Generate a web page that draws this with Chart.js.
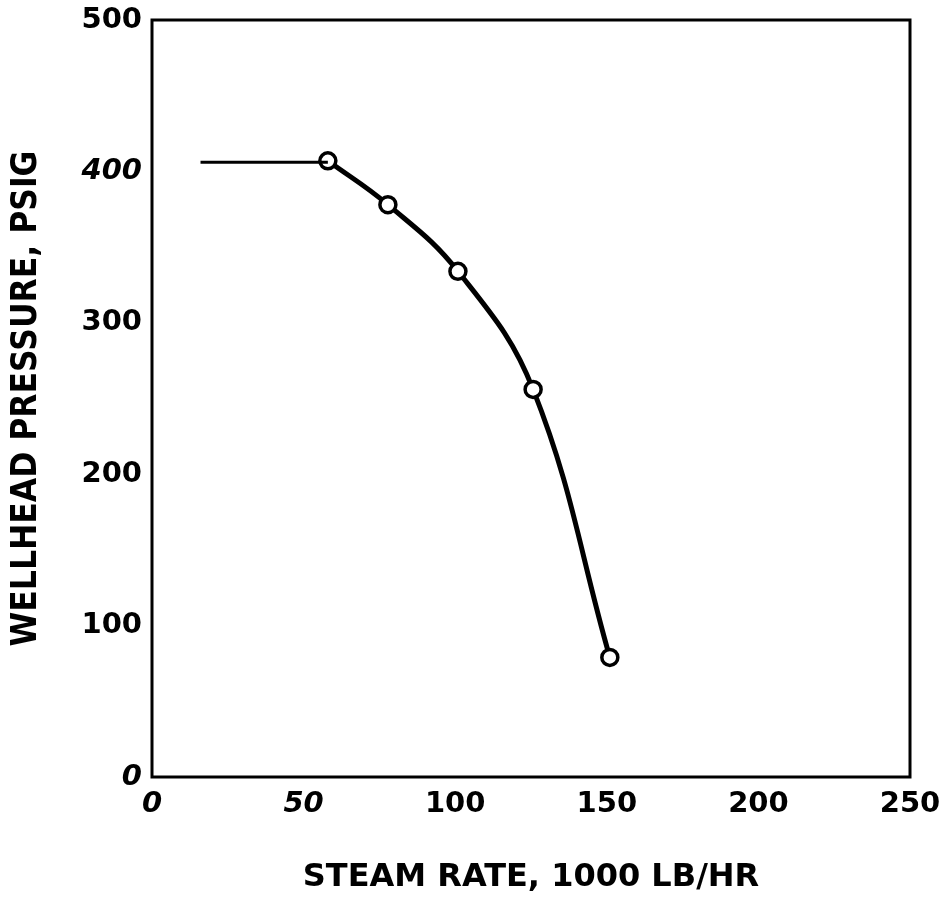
<!DOCTYPE html>
<html><head><meta charset="utf-8">
<script src="https://cdn.jsdelivr.net/npm/chart.js@4"></script>
<style>html,body{margin:0;padding:0;background:#fff}#wrap{width:948px;height:901px}</style>
</head><body><div id="wrap"><canvas id="c" width="948" height="901"></canvas></div>
<script>
const steamRate = [58, 77.8, 100.9, 125.7, 151];
const pressure = [407, 378, 334, 256, 79];
const flatX = [16, 58];
const flatY = [406, 406];
const xTicks = [0, 50, 100, 150, 200, 250];
const yTicks = [0, 100, 200, 300, 400, 500];
const italicTicks = {x: [0, 50], y: [0, 400]};

const boxPlugin = {
  id: 'box',
  afterDatasetsDraw(chart) {
    const a = chart.chartArea, ctx = chart.ctx;
    ctx.save(); ctx.strokeStyle = '#000'; ctx.lineWidth = 3;
    ctx.strokeRect(a.left, a.top, a.right - a.left, a.bottom - a.top);
    ctx.restore();
  }
};

new Chart(document.getElementById('c'), {
  type: 'scatter',
  data: {
    datasets: [
      {
        data: flatX.map((x, i) => ({x, y: flatY[i]})),
        showLine: true, borderColor: '#000', borderWidth: 3, pointRadius: 0
      },
      {
        data: steamRate.map((x, i) => ({x, y: pressure[i]})),
        showLine: true, borderColor: '#000', borderWidth: 5,
        tension: 0.4,
        pointRadius: 8, pointBorderWidth: 3.5,
        pointBackgroundColor: '#fff', pointBorderColor: '#000'
      }
    ]
  },
  options: {
    responsive: false, animation: false,
    layout: {padding: {top: 20, right: 38, left: 0, bottom: 0}},
    plugins: {legend: {display: false}, tooltip: {enabled: false}},
    scales: {
      x: {
        type: 'linear', min: 0, max: 250,
        afterBuildTicks: s => { s.ticks = xTicks.map(v => ({value: v})); },
        afterFit: s => { s.height = 124; s.paddingLeft = 0; s.paddingRight = 0; },
        grid: {display: false, drawTicks: false}, border: {display: false},
        ticks: {
          color: '#000', padding: 10,
          font: c => ({family: 'DejaVu Sans, sans-serif', size: 29, weight: 'bold',
            style: italicTicks.x.includes(c.tick && c.tick.value) ? 'italic' : 'normal'})
        },
        title: {display: true, text: 'STEAM RATE, 1000 LB/HR', color: '#000',
          font: {family: 'DejaVu Sans, sans-serif', size: 32, weight: 'bold'}, padding: {top: 26}}
      },
      y: {
        type: 'linear', min: 0, max: 500,
        afterBuildTicks: s => { s.ticks = yTicks.map(v => ({value: v})); },
        afterFit: s => { s.width = 152; s.paddingTop = 0; s.paddingBottom = 0; },
        grid: {display: false, drawTicks: false}, border: {display: false},
        ticks: {
          color: '#000', padding: 10,
          font: c => ({family: 'DejaVu Sans, sans-serif', size: 29, weight: 'bold',
            style: italicTicks.y.includes(c.tick && c.tick.value) ? 'italic' : 'normal'})
        },
        title: {display: true, text: 'WELLHEAD PRESSURE, PSIG', color: '#000',
          font: {family: 'DejaVu Sans Condensed, DejaVu Sans, sans-serif', size: 35, weight: 'bold'}, padding: {top: 6, bottom: 0}}
      }
    }
  },
  plugins: [boxPlugin]
});
</script></body></html>
